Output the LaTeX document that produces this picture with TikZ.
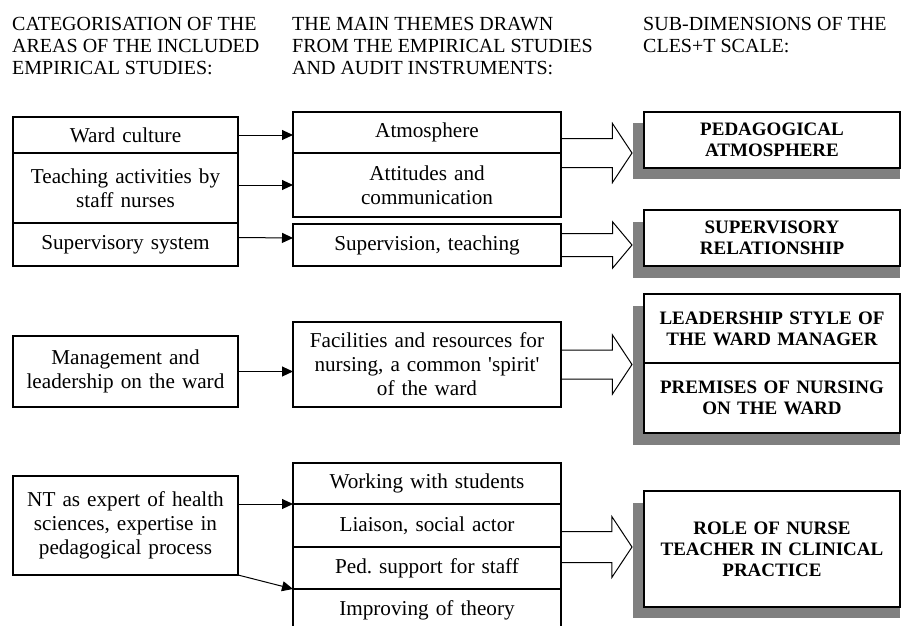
\documentclass[tikz,border=0pt]{standalone}
\usepackage{fontspec}
\setmainfont{Liberation Serif}
\usetikzlibrary{arrows.meta,positioning,shapes.arrows,backgrounds,calc}
\definecolor{ShadowGray}{RGB}{128,128,128}
\tikzset{
  head/.style={anchor=north west,inner sep=0pt,align=left,
    font=\fontsize{20}{22}\selectfont},
  area/.style={draw,line width=1.2pt,outer sep=0pt,inner sep=0pt,
    minimum width=225pt,text width=215pt,align=center,
    font=\fontsize{21.2}{24}\selectfont},
  theme/.style={area,minimum width=268pt,text width=258pt},
  dimbox/.style={draw,fill=white,line width=1.4pt,outer sep=0pt,inner sep=0pt,
    minimum width=256pt,text width=246pt,align=center,
    font=\fontsize{19}{21}\selectfont\bfseries},
  shade/.style={fill=ShadowGray},
  link/.style={-{Triangle[length=11pt,width=10pt]},line width=1pt},
  fat/.style={single arrow,draw,line width=1pt,outer sep=0pt,anchor=tail,
    minimum height=71pt,inner xsep=0pt,inner ysep=14pt,
    single arrow head extend=15pt,single arrow tip angle=113}
}

\begin{document}
\begin{tikzpicture}[x=1pt,y=-1pt,node distance=0pt]
  \path[use as bounding box] (0,0) rectangle (902,626);
  \clip (0,0) rectangle (902,626);

  \node[head] (h1) at (12,17) {CATEGORISATION OF THE\\AREAS OF THE INCLUDED\\EMPIRICAL STUDIES:};
  \node[head] (h2) at (292,17) {THE MAIN THEMES DRAWN\\FROM THE EMPIRICAL STUDIES\\AND AUDIT INSTRUMENTS:};
  \node[head] (h3) at (643,17) {SUB-DIMENSIONS OF THE\\CLES+T SCALE:};

  % areas
  \node[area,minimum height=36pt,anchor=north west] (wc) at (13,117) {Ward culture};
  \node[area,minimum height=70pt,below=of wc] (tsn) {Teaching activities by\\staff nurses};
  \node[area,minimum height=43pt,below=of tsn] (ss) {Supervisory system};
  \node[area,minimum height=71pt,anchor=north west] (mgt) at (13,336) {Management and\\leadership on the ward};
  \node[area,minimum height=99pt,anchor=north west] (nt) at (13,476) {NT as expert of health\\sciences, expertise in\\pedagogical process};

  % themes
  \node[theme,minimum height=41pt,anchor=north west] (atm) at (293,112) {Atmosphere};
  \node[theme,minimum height=64pt,below=of atm] (att) {Attitudes and\\communication};
  \node[theme,minimum height=42pt,anchor=north west] (sup) at (293,224) {Supervision, teaching};
  \node[theme,minimum height=85pt,anchor=north west] (fac) at (293,322) {Facilities and resources for\\nursing, a common \textquotesingle spirit\textquotesingle\\of the ward};
  \node[theme,minimum height=41pt,anchor=north west] (wws) at (293,463) {Working with students};
  \node[theme,minimum height=43pt,below=of wws] (las) {Liaison, social actor};
  \node[theme,minimum height=42pt,below=of las] (ped) {Ped.\ support for staff};
  \node[theme,minimum height=42pt,below=of ped] (imp) {Improving of theory};

  % sub-dimensions
  \node[dimbox,minimum height=56pt,anchor=north west] (pa) at (644,112) {PEDAGOGICAL\\ATMOSPHERE};
  \node[dimbox,minimum height=56pt,anchor=north west] (sr) at (644,210) {SUPERVISORY\\RELATIONSHIP};
  \node[dimbox,minimum height=69pt,anchor=north west] (lsw) at (644,294) {LEADERSHIP STYLE OF\\THE WARD MANAGER};
  \node[dimbox,minimum height=70pt,below=of lsw] (pnw) {PREMISES OF NURSING\\ON THE WARD};
  \node[dimbox,minimum height=116pt,anchor=north west] (rnt) at (644,491) {ROLE OF NURSE\\TEACHER IN CLINICAL\\PRACTICE};

  \begin{scope}[on background layer]
    \fill[shade] ($(pa.north west)+(-11,11)$) rectangle ($(pa.south east)+(0,11)$);
    \fill[shade] ($(sr.north west)+(-11,12)$) rectangle ($(sr.south east)+(0,12)$);
    \fill[shade] ($(lsw.north west)+(-11,12)$) rectangle ($(pnw.south east)+(0,12)$);
    \fill[shade] ($(rnt.north west)+(-11,12)$) rectangle ($(rnt.south east)+(0,11)$);
  \end{scope}

  \draw[link] (wc.east) -- (wc.east -| atm.west);
  \draw[link] (att.west -| tsn.east) -- (att.west);
  \draw[link] ([yshift=7pt]ss.east) -- ([yshift=7pt]sup.west);
  \draw[link] (mgt.east) -- (mgt.east -| fac.west);
  \draw[link] (nt.east |- wws.south) -- (wws.south west);
  \draw[link] (nt.south east) -- (ped.south west);

  \node[fat] (f1) at (att.north east) {};
  \node[fat,inner ysep=11pt,single arrow head extend=11.5pt,single arrow tip angle=100] (f2) at (sup.east) {};
  \node[fat] (f3) at (fac.east) {};
  \node[fat,inner ysep=15pt] (f4) at (ped.north east) {};
\end{tikzpicture}
\end{document}
